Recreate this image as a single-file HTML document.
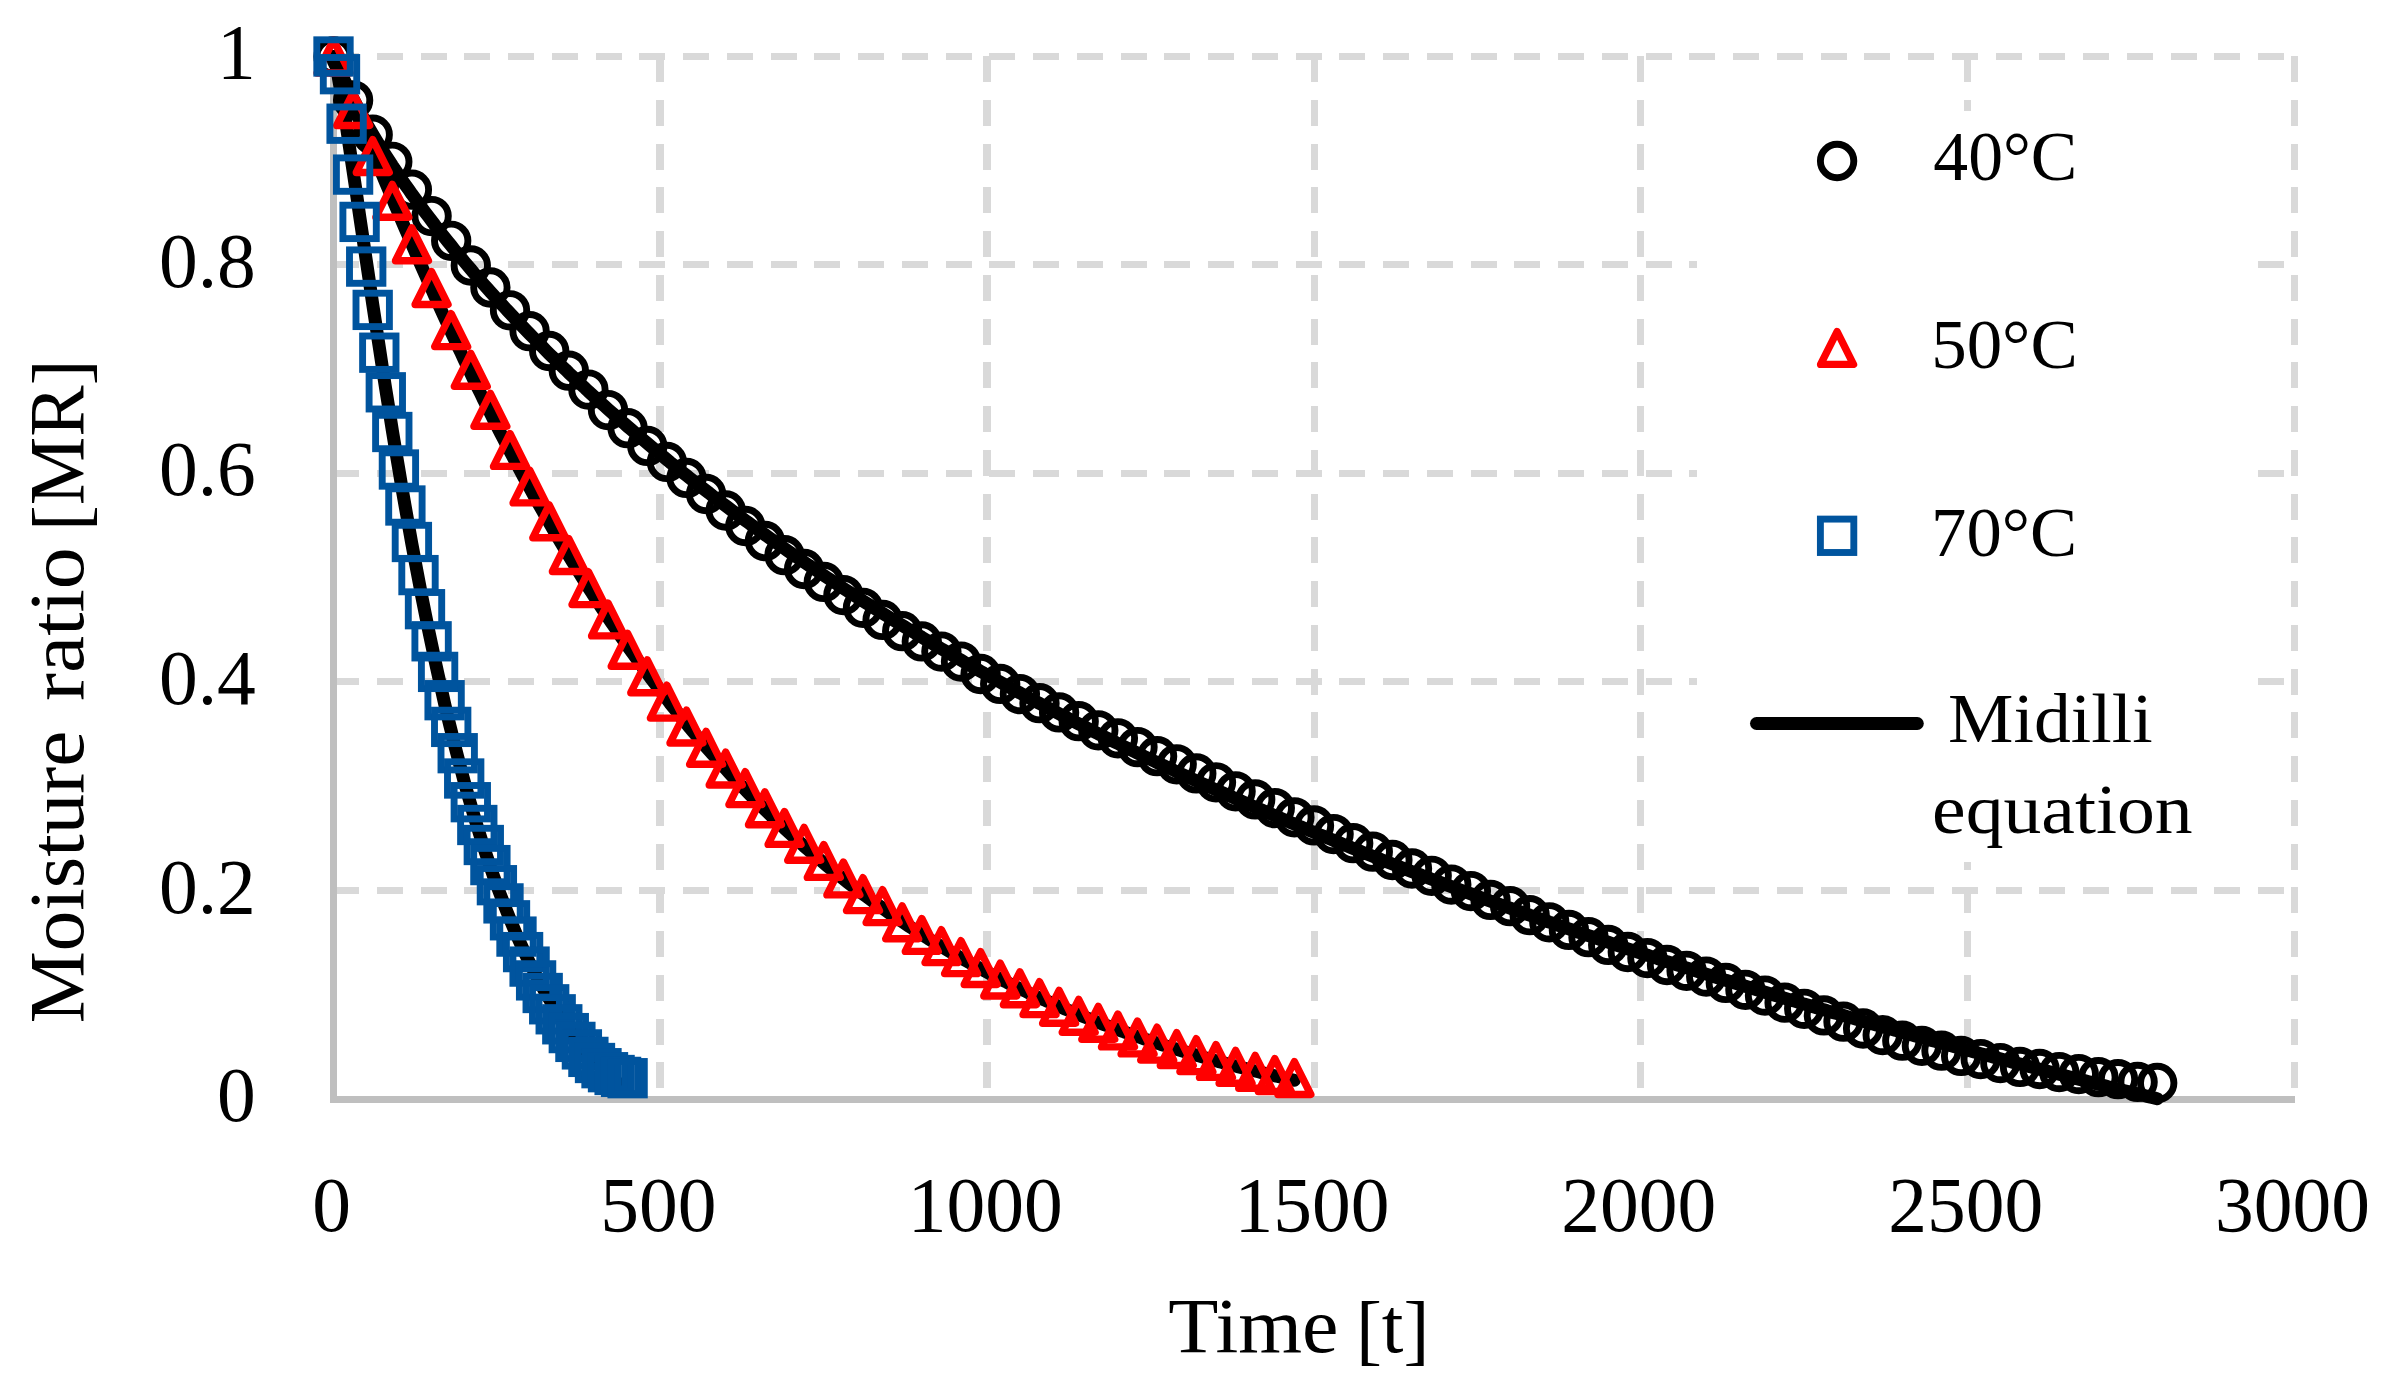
<!DOCTYPE html>
<html lang="en">
<head>
<meta charset="utf-8">
<title>Moisture ratio vs time</title>
<style>
html,body{margin:0;padding:0;background:#fff;}
body{width:2398px;height:1396px;overflow:hidden;}
svg{display:block;}
text{font-family:"Liberation Serif","DejaVu Serif",serif;fill:#000;}
</style>
</head>
<body>
<svg width="2398" height="1396" viewBox="0 0 2398 1396">
<rect x="0" y="0" width="2398" height="1396" fill="#ffffff"/>
<g id="grid" stroke="#d9d9d9" stroke-width="7" fill="none" stroke-dasharray="26 17.75" shape-rendering="crispEdges">
<line x1="333" y1="890.5" x2="2294.5" y2="890.5"/>
<line x1="333" y1="681.5" x2="2294.5" y2="681.5"/>
<line x1="333" y1="473.5" x2="2294.5" y2="473.5"/>
<line x1="333" y1="264.5" x2="2294.5" y2="264.5"/>
<line x1="333" y1="56.5" x2="2294.5" y2="56.5"/>
<line x1="660" y1="56" x2="660" y2="1099.5" stroke-width="8"/>
<line x1="987" y1="56" x2="987" y2="1099.5" stroke-width="8"/>
<line x1="1314" y1="56" x2="1314" y2="1099.5"/>
<line x1="1640.8" y1="56" x2="1640.8" y2="1099.5"/>
<line x1="1967.7" y1="56" x2="1967.7" y2="1099.5"/>
<line x1="2294.5" y1="56" x2="2294.5" y2="1099.5"/>
</g>
<g id="axes" stroke="#bfbfbf" stroke-width="7" fill="none" shape-rendering="crispEdges">
<line x1="333.5" y1="53" x2="333.5" y2="1103"/>
<line x1="330" y1="1099.5" x2="2294.5" y2="1099.5"/>
</g>
<g id="model" stroke="#000000" stroke-width="13" fill="none" stroke-linecap="round" stroke-linejoin="round">
<polyline points="333.5,56.5 336.8,61.3 340,70 343.3,77.9 346.6,85.2 349.8,92.1 353.1,98.7 356.4,105.1 359.6,111.3 362.9,117.2 366.2,123.1 369.5,128.8 372.7,134.3 376,139.8 379.3,145.1 382.5,150.4 385.8,155.5 389.1,160.6 392.3,165.6 395.6,170.5 398.9,175.4 402.1,180.2 405.4,184.9 408.7,189.6 411.9,194.2 415.2,198.7 418.5,203.2 421.7,207.7 425,212.1 428.3,216.4 431.6,220.7 434.8,225 438.1,229.2 441.4,233.4 444.6,237.5 447.9,241.6 451.2,245.7 454.4,249.7 457.7,253.7 461,257.6 464.2,261.5 467.5,265.4 470.8,269.3 474,273.1 477.3,276.9 480.6,280.7 483.8,284.4 487.1,288.1 490.4,291.8 493.6,295.4 496.9,299.1 500.2,302.7 503.5,306.2 506.7,309.8 510,313.3 513.3,316.8 516.5,320.3 519.8,323.7 523.1,327.1 526.3,330.5 529.6,333.9 532.9,337.3 536.1,340.6 539.4,343.9 542.7,347.2 545.9,350.5 549.2,353.8 552.5,357 555.7,360.2 559,363.4 562.3,366.6 565.6,369.7 568.8,372.9 572.1,376 575.4,379.1 578.6,382.2 581.9,385.3 585.2,388.3 588.4,391.4 591.7,394.4 595,397.4 598.2,400.4 601.5,403.3 604.8,406.3 608,409.2 611.3,412.1 614.6,415 617.8,417.9 621.1,420.8 624.4,423.7 627.6,426.5 630.9,429.3 634.2,432.2 637.5,435 640.7,437.8 644,440.5 647.3,443.3 650.5,446 653.8,448.8 657.1,451.5 660.3,454.2 663.6,456.9 666.9,459.6 670.1,462.3 673.4,464.9 676.7,467.6 679.9,470.2 683.2,472.8 686.5,475.4 689.7,478 693,480.6 696.3,483.2 699.6,485.7 702.8,488.3 706.1,490.8 709.4,493.3 712.6,495.9 715.9,498.4 719.2,500.8 722.4,503.3 725.7,505.8 729,508.3 732.2,510.7 735.5,513.1 738.8,515.6 742,518 745.3,520.4 748.6,522.8 751.8,525.2 755.1,527.6 758.4,529.9 761.7,532.3 764.9,534.6 768.2,537 771.5,539.3 774.7,541.6 778,543.9 781.3,546.2 784.5,548.5 787.8,550.8 791.1,553.1 794.3,555.3 797.6,557.6 800.9,559.8 804.1,562.1 807.4,564.3 810.7,566.5 813.9,568.7 817.2,570.9 820.5,573.1 823.8,575.3 827,577.5 830.3,579.7 833.6,581.8 836.8,584 840.1,586.1 843.4,588.3 846.6,590.4 849.9,592.5 853.2,594.6 856.4,596.7 859.7,598.8 863,600.9 866.2,603 869.5,605.1 872.8,607.1 876,609.2 879.3,611.2 882.6,613.3 885.8,615.3 889.1,617.3 892.4,619.4 895.7,621.4 898.9,623.4 902.2,625.4 905.5,627.4 908.7,629.4 912,631.3 915.3,633.3 918.5,635.3 921.8,637.2 925.1,639.2 928.3,641.1 931.6,643.1 934.9,645 938.1,646.9 941.4,648.8 944.7,650.7 947.9,652.6 951.2,654.5 954.5,656.4 957.8,658.3 961,660.2 964.3,662.1 967.6,663.9 970.8,665.8 974.1,667.6 977.4,669.5 980.6,671.3 983.9,673.2 987.2,675 990.4,676.8 993.7,678.6 997,680.4 1000.2,682.2 1003.5,684 1006.8,685.8 1010,687.6 1013.3,689.4 1016.6,691.2 1019.9,692.9 1023.1,694.7 1026.4,696.5 1029.7,698.2 1032.9,700 1036.2,701.7 1039.5,703.4 1042.7,705.2 1046,706.9 1049.3,708.6 1052.5,710.3 1055.8,712 1059.1,713.7 1062.3,715.4 1065.6,717.1 1068.9,718.8 1072.1,720.5 1075.4,722.2 1078.7,723.9 1081.9,725.5 1085.2,727.2 1088.5,728.8 1091.8,730.5 1095,732.1 1098.3,733.8 1101.6,735.4 1104.8,737.1 1108.1,738.7 1111.4,740.3 1114.6,741.9 1117.9,743.5 1121.2,745.1 1124.4,746.7 1127.7,748.3 1131,749.9 1134.2,751.5 1137.5,753.1 1140.8,754.7 1144,756.3 1147.3,757.8 1150.6,759.4 1153.9,761 1157.1,762.5 1160.4,764.1 1163.7,765.6 1166.9,767.2 1170.2,768.7 1173.5,770.2 1176.7,771.8 1180,773.3 1183.3,774.8 1186.5,776.3 1189.8,777.8 1193.1,779.4 1196.3,780.9 1199.6,782.4 1202.9,783.9 1206.1,785.3 1209.4,786.8 1212.7,788.3 1216,789.8 1219.2,791.3 1222.5,792.7 1225.8,794.2 1229,795.7 1232.3,797.1 1235.6,798.6 1238.8,800 1242.1,801.5 1245.4,802.9 1248.6,804.4 1251.9,805.8 1255.2,807.2 1258.4,808.7 1261.7,810.1 1265,811.5 1268.2,812.9 1271.5,814.3 1274.8,815.7 1278,817.1 1281.3,818.5 1284.6,819.9 1287.9,821.3 1291.1,822.7 1294.4,824.1 1297.7,825.5 1300.9,826.9 1304.2,828.2 1307.5,829.6 1310.7,831 1314,832.3 1317.3,833.7 1320.5,835.1 1323.8,836.4 1327.1,837.8 1330.3,839.1 1333.6,840.4 1336.9,841.8 1340.1,843.1 1343.4,844.5 1346.7,845.8 1350,847.1 1353.2,848.4 1356.5,849.8 1359.8,851.1 1363,852.4 1366.3,853.7 1369.6,855 1372.8,856.3 1376.1,857.6 1379.4,858.9 1382.6,860.2 1385.9,861.5 1389.2,862.8 1392.4,864 1395.7,865.3 1399,866.6 1402.2,867.9 1405.5,869.1 1408.8,870.4 1412,871.7 1415.3,872.9 1418.6,874.2 1421.9,875.4 1425.1,876.7 1428.4,877.9 1431.7,879.2 1434.9,880.4 1438.2,881.7 1441.5,882.9 1444.7,884.1 1448,885.4 1451.3,886.6 1454.5,887.8 1457.8,889 1461.1,890.3 1464.3,891.5 1467.6,892.7 1470.9,893.9 1474.1,895.1 1477.4,896.3 1480.7,897.5 1484,898.7 1487.2,899.9 1490.5,901.1 1493.8,902.3 1497,903.5 1500.3,904.7 1503.6,905.8 1506.8,907 1510.1,908.2 1513.4,909.4 1516.6,910.5 1519.9,911.7 1523.2,912.9 1526.4,914 1529.7,915.2 1533,916.3 1536.2,917.5 1539.5,918.7 1542.8,919.8 1546.1,920.9 1549.3,922.1 1552.6,923.2 1555.9,924.4 1559.1,925.5 1562.4,926.6 1565.7,927.8 1568.9,928.9 1572.2,930 1575.5,931.1 1578.7,932.3 1582,933.4 1585.3,934.5 1588.5,935.6 1591.8,936.7 1595.1,937.8 1598.3,938.9 1601.6,940 1604.9,941.1 1608.2,942.2 1611.4,943.3 1614.7,944.4 1618,945.5 1621.2,946.6 1624.5,947.7 1627.8,948.8 1631,949.9 1634.3,950.9 1637.6,952 1640.8,953.1 1644.1,954.2 1647.4,955.2 1650.6,956.3 1653.9,957.4 1657.2,958.4 1660.4,959.5 1663.7,960.6 1667,961.6 1670.2,962.7 1673.5,963.7 1676.8,964.8 1680.1,965.8 1683.3,966.9 1686.6,967.9 1689.9,968.9 1693.1,970 1696.4,971 1699.7,972.1 1702.9,973.1 1706.2,974.1 1709.5,975.1 1712.7,976.2 1716,977.2 1719.3,978.2 1722.5,979.2 1725.8,980.3 1729.1,981.3 1732.3,982.3 1735.6,983.3 1738.9,984.3 1742.2,985.3 1745.4,986.3 1748.7,987.3 1752,988.3 1755.2,989.3 1758.5,990.3 1761.8,991.3 1765,992.3 1768.3,993.3 1771.6,994.3 1774.8,995.3 1778.1,996.3 1781.4,997.2 1784.6,998.2 1787.9,999.2 1791.2,1000.2 1794.4,1001.1 1797.7,1002.1 1801,1003.1 1804.2,1004.1 1807.5,1005 1810.8,1006 1814.1,1007 1817.3,1007.9 1820.6,1008.9 1823.9,1009.8 1827.1,1010.8 1830.4,1011.7 1833.7,1012.7 1836.9,1013.6 1840.2,1014.6 1843.5,1015.5 1846.7,1016.5 1850,1017.4 1853.3,1018.4 1856.5,1019.3 1859.8,1020.2 1863.1,1021.2 1866.3,1022.1 1869.6,1023 1872.9,1024 1876.2,1024.9 1879.4,1025.8 1882.7,1026.8 1886,1027.7 1889.2,1028.6 1892.5,1029.5 1895.8,1030.4 1899,1031.4 1902.3,1032.3 1905.6,1033.2 1908.8,1034.1 1912.1,1035 1915.4,1035.9 1918.6,1036.8 1921.9,1037.7 1925.2,1038.6 1928.4,1039.5 1931.7,1040.4 1935,1041.3 1938.3,1042.2 1941.5,1043.1 1944.8,1044 1948.1,1044.9 1951.3,1045.8 1954.6,1046.7 1957.9,1047.6 1961.1,1048.4 1964.4,1049.3 1967.7,1050.2 1970.9,1051.1 1974.2,1052 1977.5,1052.8 1980.7,1053.7 1984,1054.6 1987.3,1055.5 1990.5,1056.3 1993.8,1057.2 1997.1,1058.1 2000.3,1058.9 2003.6,1059.8 2006.9,1060.7 2010.2,1061.5 2013.4,1062.4 2016.7,1063.2 2020,1064.1 2023.2,1064.9 2026.5,1065.8 2029.8,1066.6 2033,1067.5 2036.3,1068.3 2039.6,1069.2 2042.8,1070 2046.1,1070.9 2049.4,1071.7 2052.6,1072.6 2055.9,1073.4 2059.2,1074.2 2062.4,1075.1 2065.7,1075.9 2069,1076.8 2072.3,1077.6 2075.5,1078.4 2078.8,1079.2 2082.1,1080.1 2085.3,1080.9 2088.6,1081.7 2091.9,1082.6 2095.1,1083.4 2098.4,1084.2 2101.7,1085 2104.9,1085.8 2108.2,1086.7 2111.5,1087.5 2114.7,1088.3 2118,1089.1 2121.3,1089.9 2124.5,1090.7 2127.8,1091.5 2131.1,1092.3 2134.4,1093.1 2137.6,1093.9 2140.9,1094.7 2144.2,1095.6 2147.4,1096.4 2150.7,1097.2 2154,1097.9 2157.2,1098.7"/>
<polyline points="333.5,61.5 336.8,67.8 340,74.8 343.3,82.1 346.6,89.6 349.8,97.2 353.1,104.9 356.4,112.6 359.6,120.4 362.9,128.2 366.2,136 369.5,143.9 372.7,151.7 376,159.5 379.3,167.3 382.5,175.1 385.8,182.9 389.1,190.7 392.3,198.4 395.6,206.2 398.9,213.8 402.1,221.5 405.4,229.1 408.7,236.7 411.9,244.3 415.2,251.8 418.5,259.3 421.7,266.7 425,274.1 428.3,281.5 431.6,288.8 434.8,296.1 438.1,303.4 441.4,310.6 444.6,317.7 447.9,324.8 451.2,331.9 454.4,338.9 457.7,345.9 461,352.8 464.2,359.7 467.5,366.6 470.8,373.4 474,380.1 477.3,386.8 480.6,393.5 483.8,400.1 487.1,406.6 490.4,413.2 493.6,419.6 496.9,426 500.2,432.4 503.5,438.8 506.7,445 510,451.3 513.3,457.5 516.5,463.6 519.8,469.7 523.1,475.8 526.3,481.8 529.6,487.7 532.9,493.7 536.1,499.5 539.4,505.3 542.7,511.1 545.9,516.9 549.2,522.5 552.5,528.2 555.7,533.8 559,539.3 562.3,544.8 565.6,550.3 568.8,555.7 572.1,561.1 575.4,566.4 578.6,571.7 581.9,577 585.2,582.2 588.4,587.4 591.7,592.5 595,597.6 598.2,602.6 601.5,607.6 604.8,612.5 608,617.4 611.3,622.3 614.6,627.1 617.8,631.9 621.1,636.7 624.4,641.4 627.6,646.1 630.9,650.7 634.2,655.3 637.5,659.8 640.7,664.3 644,668.8 647.3,673.3 650.5,677.7 653.8,682 657.1,686.3 660.3,690.6 663.6,694.9 666.9,699.1 670.1,703.3 673.4,707.4 676.7,711.5 679.9,715.6 683.2,719.6 686.5,723.6 689.7,727.6 693,731.5 696.3,735.4 699.6,739.2 702.8,743.1 706.1,746.9 709.4,750.6 712.6,754.3 715.9,758 719.2,761.7 722.4,765.3 725.7,768.9 729,772.5 732.2,776 735.5,779.5 738.8,783 742,786.4 745.3,789.8 748.6,793.2 751.8,796.5 755.1,799.9 758.4,803.1 761.7,806.4 764.9,809.6 768.2,812.8 771.5,816 774.7,819.1 778,822.2 781.3,825.3 784.5,828.4 787.8,831.4 791.1,834.4 794.3,837.4 797.6,840.3 800.9,843.3 804.1,846.2 807.4,849 810.7,851.9 813.9,854.7 817.2,857.5 820.5,860.2 823.8,863 827,865.7 830.3,868.4 833.6,871 836.8,873.7 840.1,876.3 843.4,878.9 846.6,881.5 849.9,884 853.2,886.5 856.4,889 859.7,891.5 863,894 866.2,896.4 869.5,898.8 872.8,901.2 876,903.6 879.3,905.9 882.6,908.2 885.8,910.5 889.1,912.8 892.4,915.1 895.7,917.3 898.9,919.5 902.2,921.7 905.5,923.9 908.7,926 912,928.2 915.3,930.3 918.5,932.4 921.8,934.5 925.1,936.5 928.3,938.6 931.6,940.6 934.9,942.6 938.1,944.6 941.4,946.5 944.7,948.5 947.9,950.4 951.2,952.3 954.5,954.2 957.8,956.1 961,958 964.3,959.8 967.6,961.6 970.8,963.4 974.1,965.2 977.4,967 980.6,968.8 983.9,970.5 987.2,972.2 990.4,973.9 993.7,975.6 997,977.3 1000.2,979 1003.5,980.6 1006.8,982.2 1010,983.9 1013.3,985.5 1016.6,987.1 1019.9,988.6 1023.1,990.2 1026.4,991.7 1029.7,993.3 1032.9,994.8 1036.2,996.3 1039.5,997.8 1042.7,999.2 1046,1000.7 1049.3,1002.1 1052.5,1003.6 1055.8,1005 1059.1,1006.4 1062.3,1007.8 1065.6,1009.2 1068.9,1010.5 1072.1,1011.9 1075.4,1013.2 1078.7,1014.6 1081.9,1015.9 1085.2,1017.2 1088.5,1018.5 1091.8,1019.8 1095,1021.1 1098.3,1022.3 1101.6,1023.6 1104.8,1024.8 1108.1,1026 1111.4,1027.2 1114.6,1028.4 1117.9,1029.6 1121.2,1030.8 1124.4,1032 1127.7,1033.1 1131,1034.3 1134.2,1035.4 1137.5,1036.6 1140.8,1037.7 1144,1038.8 1147.3,1039.9 1150.6,1041 1153.9,1042 1157.1,1043.1 1160.4,1044.2 1163.7,1045.2 1166.9,1046.3 1170.2,1047.3 1173.5,1048.3 1176.7,1049.3 1180,1050.3 1183.3,1051.3 1186.5,1052.3 1189.8,1053.3 1193.1,1054.2 1196.3,1055.2 1199.6,1056.1 1202.9,1057.1 1206.1,1058 1209.4,1058.9 1212.7,1059.9 1216,1060.8 1219.2,1061.7 1222.5,1062.6 1225.8,1063.4 1229,1064.3 1232.3,1065.2 1235.6,1066 1238.8,1066.9 1242.1,1067.7 1245.4,1068.6 1248.6,1069.4 1251.9,1070.2 1255.2,1071 1258.4,1071.8 1261.7,1072.6 1265,1073.4 1268.2,1074.2 1271.5,1075 1274.8,1075.8 1278,1076.5 1281.3,1077.3 1284.6,1078.1 1287.9,1078.8 1291.1,1079.5 1294.4,1080.3"/>
<polyline points="333.5,56.5 336.8,68.7 340,87 343.3,106.9 346.6,127.8 349.8,149.3 353.1,171.2 356.4,193.3 359.6,215.6 362.9,237.8 366.2,260 369.5,282.1 372.7,304.1 376,325.8 379.3,347.2 382.5,368.4 385.8,389.4 389.1,409.9 392.3,430.2 395.6,450.1 398.9,469.7 402.1,488.9 405.4,507.7 408.7,526.1 411.9,544.2 415.2,561.8 418.5,579.1 421.7,596 425,612.5 428.3,628.7 431.6,644.4 434.8,659.7 438.1,674.7 441.4,689.3 444.6,703.6 447.9,717.4 451.2,730.9 454.4,744.1 457.7,756.9 461,769.4 464.2,781.5 467.5,793.3 470.8,804.7 474,815.9 477.3,826.7 480.6,837.2 483.8,847.5 487.1,857.4 490.4,867.1 493.6,876.4 496.9,885.5 500.2,894.3 503.5,902.9 506.7,911.2 510,919.3 513.3,927.1 516.5,934.7 519.8,942 523.1,949.2 526.3,956.1 529.6,962.8 532.9,969.3 536.1,975.6 539.4,981.7 542.7,987.6 545.9,993.4 549.2,998.9 552.5,1004.3 555.7,1009.5 559,1014.6 562.3,1019.5 565.6,1024.3 568.8,1028.9 572.1,1033.3 575.4,1037.6 578.6,1041.8 581.9,1045.9 585.2,1049.8 588.4,1053.6 591.7,1057.3 595,1060.8 598.2,1064.3 601.5,1067.7 604.8,1070.9 608,1074.1 611.3,1077.1 614.6,1080.1 617.8,1082.9 621.1,1085.7 624.4,1088.4 627.6,1091"/>
</g>
<g id="s40" stroke="#000000" stroke-width="6.9" fill="none" stroke-linejoin="round">
<circle cx="333.5" cy="56.5" r="16.7"/><circle cx="353.1" cy="100.3" r="16.7"/><circle cx="372.7" cy="134.7" r="16.7"/><circle cx="392.3" cy="161.8" r="16.7"/><circle cx="411.9" cy="189.7" r="16.7"/><circle cx="431.6" cy="216.1" r="16.7"/><circle cx="451.2" cy="240.8" r="16.7"/><circle cx="470.8" cy="265.5" r="16.7"/><circle cx="490.4" cy="287.5" r="16.7"/><circle cx="510" cy="310.3" r="16.7"/><circle cx="529.6" cy="331.2" r="16.7"/><circle cx="549.2" cy="351" r="16.7"/><circle cx="568.8" cy="370.7" r="16.7"/><circle cx="588.4" cy="389.6" r="16.7"/><circle cx="608" cy="410.1" r="16.7"/><circle cx="627.6" cy="428.2" r="16.7"/><circle cx="647.3" cy="445.9" r="16.7"/><circle cx="666.9" cy="461.9" r="16.7"/><circle cx="686.5" cy="477.9" r="16.7"/><circle cx="706.1" cy="494" r="16.7"/><circle cx="725.7" cy="510.5" r="16.7"/><circle cx="745.3" cy="526" r="16.7"/><circle cx="764.9" cy="541" r="16.7"/><circle cx="784.5" cy="555.2" r="16.7"/><circle cx="804.1" cy="569" r="16.7"/><circle cx="823.8" cy="581.9" r="16.7"/><circle cx="843.4" cy="595.1" r="16.7"/><circle cx="863" cy="607.8" r="16.7"/><circle cx="882.6" cy="619.9" r="16.7"/><circle cx="902.2" cy="631.2" r="16.7"/><circle cx="921.8" cy="641.4" r="16.7"/><circle cx="941.4" cy="651.6" r="16.7"/><circle cx="961" cy="661.6" r="16.7"/><circle cx="980.6" cy="674" r="16.7"/><circle cx="1000.2" cy="683.9" r="16.7"/><circle cx="1019.9" cy="694.1" r="16.7"/><circle cx="1039.5" cy="703.2" r="16.7"/><circle cx="1059.1" cy="712.4" r="16.7"/><circle cx="1078.7" cy="721.2" r="16.7"/><circle cx="1098.3" cy="730.3" r="16.7"/><circle cx="1117.9" cy="738.3" r="16.7"/><circle cx="1137.5" cy="747.1" r="16.7"/><circle cx="1157.1" cy="756.2" r="16.7"/><circle cx="1176.7" cy="764.3" r="16.7"/><circle cx="1196.3" cy="773.4" r="16.7"/><circle cx="1216" cy="782.3" r="16.7"/><circle cx="1235.6" cy="791.3" r="16.7"/><circle cx="1255.2" cy="799.4" r="16.7"/><circle cx="1274.8" cy="808.1" r="16.7"/><circle cx="1294.4" cy="817.3" r="16.7"/><circle cx="1314" cy="825.4" r="16.7"/><circle cx="1333.6" cy="834.1" r="16.7"/><circle cx="1353.2" cy="843.2" r="16.7"/><circle cx="1372.8" cy="851.7" r="16.7"/><circle cx="1392.4" cy="860" r="16.7"/><circle cx="1412" cy="868.5" r="16.7"/><circle cx="1431.7" cy="875.8" r="16.7"/><circle cx="1451.3" cy="884.6" r="16.7"/><circle cx="1470.9" cy="891.1" r="16.7"/><circle cx="1490.5" cy="899.9" r="16.7"/><circle cx="1510.1" cy="906.2" r="16.7"/><circle cx="1529.7" cy="915.2" r="16.7"/><circle cx="1549.3" cy="922.3" r="16.7"/><circle cx="1568.9" cy="929.9" r="16.7"/><circle cx="1588.5" cy="937.2" r="16.7"/><circle cx="1608.2" cy="944.9" r="16.7"/><circle cx="1627.8" cy="952" r="16.7"/><circle cx="1647.4" cy="958.1" r="16.7"/><circle cx="1667" cy="965" r="16.7"/><circle cx="1686.6" cy="970.8" r="16.7"/><circle cx="1706.2" cy="976.6" r="16.7"/><circle cx="1725.8" cy="982.9" r="16.7"/><circle cx="1745.4" cy="989.8" r="16.7"/><circle cx="1765" cy="995.6" r="16.7"/><circle cx="1784.6" cy="1002.7" r="16.7"/><circle cx="1804.2" cy="1008.8" r="16.7"/><circle cx="1823.9" cy="1015.4" r="16.7"/><circle cx="1843.5" cy="1021.7" r="16.7"/><circle cx="1863.1" cy="1028.5" r="16.7"/><circle cx="1882.7" cy="1035.1" r="16.7"/><circle cx="1902.3" cy="1040.7" r="16.7"/><circle cx="1921.9" cy="1045.8" r="16.7"/><circle cx="1941.5" cy="1050.7" r="16.7"/><circle cx="1961.1" cy="1055.9" r="16.7"/><circle cx="1980.7" cy="1059.1" r="16.7"/><circle cx="2000.3" cy="1063.1" r="16.7"/><circle cx="2020" cy="1066.9" r="16.7"/><circle cx="2039.6" cy="1069" r="16.7"/><circle cx="2059.2" cy="1072.1" r="16.7"/><circle cx="2078.8" cy="1074.1" r="16.7"/><circle cx="2098.4" cy="1077.2" r="16.7"/><circle cx="2118" cy="1079.2" r="16.7"/><circle cx="2137.6" cy="1081.9" r="16.7"/><circle cx="2157.2" cy="1083" r="16.7"/>
</g>
<g id="s50" stroke="#ff0000" stroke-width="7.4" fill="none" stroke-linejoin="round">
<path d="M333.5 40L349.9 73L317.1 73Z"/><path d="M353.1 92.6L369.6 125.5L336.7 125.5Z"/><path d="M372.7 139.6L389.2 172.5L356.3 172.5Z"/><path d="M392.3 184.3L408.8 217.2L375.9 217.2Z"/><path d="M411.9 227.8L428.4 260.7L395.5 260.7Z"/><path d="M431.6 271.6L448 304.5L415.1 304.5Z"/><path d="M451.2 313.7L467.6 346.6L434.7 346.6Z"/><path d="M470.8 353.4L487.2 386.3L454.3 386.3Z"/><path d="M490.4 393.4L506.8 426.3L473.9 426.3Z"/><path d="M510 433.5L526.4 466.4L493.5 466.4Z"/><path d="M529.6 470L546.1 502.9L513.1 502.9Z"/><path d="M549.2 504.9L565.7 537.8L532.8 537.8Z"/><path d="M568.8 538.6L585.3 571.5L552.4 571.5Z"/><path d="M588.4 571.7L604.9 604.6L572 604.6Z"/><path d="M608 603L624.5 635.9L591.6 635.9Z"/><path d="M627.6 633.4L644.1 666.3L611.2 666.3Z"/><path d="M647.3 659.8L663.7 692.7L630.8 692.7Z"/><path d="M666.9 685.2L683.3 718.1L650.4 718.1Z"/><path d="M686.5 710.1L702.9 743L670 743Z"/><path d="M706.1 731.4L722.5 764.3L689.6 764.3Z"/><path d="M725.7 752.1L742.2 785L709.2 785Z"/><path d="M745.3 771.7L761.8 804.6L728.9 804.6Z"/><path d="M764.9 791.8L781.4 824.7L748.5 824.7Z"/><path d="M784.5 811.5L801 844.4L768.1 844.4Z"/><path d="M804.1 827.4L820.6 860.3L787.7 860.3Z"/><path d="M823.8 844.5L840.2 877.4L807.3 877.4Z"/><path d="M843.4 862L859.8 894.9L826.9 894.9Z"/><path d="M863 877.7L879.4 910.6L846.5 910.6Z"/><path d="M882.6 889.7L899 922.6L866.1 922.6Z"/><path d="M902.2 905.9L918.6 938.8L885.7 938.8Z"/><path d="M921.8 918.5L938.2 951.4L905.3 951.4Z"/><path d="M941.4 929.7L957.9 962.6L925 962.6Z"/><path d="M961 940.7L977.5 973.6L944.6 973.6Z"/><path d="M980.6 951.6L997.1 984.5L964.2 984.5Z"/><path d="M1000.2 963.1L1016.7 996L983.8 996Z"/><path d="M1019.9 971.8L1036.3 1004.7L1003.4 1004.7Z"/><path d="M1039.5 981.7L1055.9 1014.6L1023 1014.6Z"/><path d="M1059.1 990.4L1075.5 1023.3L1042.6 1023.3Z"/><path d="M1078.7 999.4L1095.1 1032.3L1062.2 1032.3Z"/><path d="M1098.3 1006.4L1114.7 1039.3L1081.8 1039.3Z"/><path d="M1117.9 1014L1134.4 1046.9L1101.5 1046.9Z"/><path d="M1137.5 1021L1154 1053.9L1121.1 1053.9Z"/><path d="M1157.1 1027.2L1173.6 1060.1L1140.7 1060.1Z"/><path d="M1176.7 1032.6L1193.2 1065.5L1160.3 1065.5Z"/><path d="M1196.3 1038.7L1212.8 1071.6L1179.9 1071.6Z"/><path d="M1216 1044.5L1232.4 1077.4L1199.5 1077.4Z"/><path d="M1235.6 1050.3L1252 1083.2L1219.1 1083.2Z"/><path d="M1255.2 1055.3L1271.6 1088.2L1238.7 1088.2Z"/><path d="M1274.8 1058.6L1291.2 1091.5L1258.3 1091.5Z"/><path d="M1294.4 1061.6L1310.8 1094.5L1277.9 1094.5Z"/>
</g>
<g id="s70" stroke="#00549e" stroke-width="6.9" fill="none" stroke-linejoin="miter">
<rect x="316.8" y="39.8" width="33.4" height="33.4"/><rect x="323.3" y="57.5" width="33.4" height="33.4"/><rect x="329.9" y="107" width="33.4" height="33.4"/><rect x="336.4" y="157.9" width="33.4" height="33.4"/><rect x="342.9" y="205.2" width="33.4" height="33.4"/><rect x="349.5" y="249.9" width="33.4" height="33.4"/><rect x="356" y="293.2" width="33.4" height="33.4"/><rect x="362.6" y="336" width="33.4" height="33.4"/><rect x="369.1" y="375.6" width="33.4" height="33.4"/><rect x="375.6" y="415.3" width="33.4" height="33.4"/><rect x="382.2" y="452.8" width="33.4" height="33.4"/><rect x="388.7" y="488.8" width="33.4" height="33.4"/><rect x="395.2" y="525.3" width="33.4" height="33.4"/><rect x="401.8" y="558.4" width="33.4" height="33.4"/><rect x="408.3" y="592.5" width="33.4" height="33.4"/><rect x="414.9" y="624.6" width="33.4" height="33.4"/><rect x="421.4" y="655.2" width="33.4" height="33.4"/><rect x="427.9" y="683.5" width="33.4" height="33.4"/><rect x="434.5" y="710.2" width="33.4" height="33.4"/><rect x="441" y="736.5" width="33.4" height="33.4"/><rect x="447.5" y="761.8" width="33.4" height="33.4"/><rect x="454.1" y="785.5" width="33.4" height="33.4"/><rect x="460.6" y="808.3" width="33.4" height="33.4"/><rect x="467.1" y="828.3" width="33.4" height="33.4"/><rect x="473.7" y="848.4" width="33.4" height="33.4"/><rect x="480.2" y="868.5" width="33.4" height="33.4"/><rect x="486.8" y="886.7" width="33.4" height="33.4"/><rect x="493.3" y="903.6" width="33.4" height="33.4"/><rect x="499.8" y="919.9" width="33.4" height="33.4"/><rect x="506.4" y="935.4" width="33.4" height="33.4"/><rect x="512.9" y="949.9" width="33.4" height="33.4"/><rect x="519.4" y="963.7" width="33.4" height="33.4"/><rect x="526" y="976.3" width="33.4" height="33.4"/><rect x="532.5" y="987.6" width="33.4" height="33.4"/><rect x="539" y="997.6" width="33.4" height="33.4"/><rect x="545.6" y="1007.6" width="33.4" height="33.4"/><rect x="552.1" y="1016.4" width="33.4" height="33.4"/><rect x="558.7" y="1025.2" width="33.4" height="33.4"/><rect x="565.2" y="1032.7" width="33.4" height="33.4"/><rect x="571.7" y="1040.2" width="33.4" height="33.4"/><rect x="578.3" y="1046.3" width="33.4" height="33.4"/><rect x="584.8" y="1051.5" width="33.4" height="33.4"/><rect x="591.3" y="1055.5" width="33.4" height="33.4"/><rect x="597.9" y="1058.3" width="33.4" height="33.4"/><rect x="604.4" y="1060.2" width="33.4" height="33.4"/><rect x="610.9" y="1061.5" width="33.4" height="33.4"/>
</g>
<rect id="legend" x="1697" y="111" width="553" height="751" fill="#ffffff"/>
<circle cx="1837.1" cy="161" r="16.7" stroke="#000" stroke-width="6.9" fill="none"/>
<path d="M1837.1 331.6L1853.5 364.4L1820.6 364.4Z" stroke="#ff0000" stroke-width="7.4" fill="none" stroke-linejoin="round"/>
<rect x="1820.4" y="519.1" width="33.4" height="33.4" stroke="#00549e" stroke-width="6.9" fill="none" stroke-linejoin="miter"/>
<line x1="1756.5" y1="723.5" x2="1917.3" y2="723.5" stroke="#000" stroke-width="13" stroke-linecap="round"/>
<text x="1933.3" y="180.3" font-size="69" text-anchor="start" textLength="144" lengthAdjust="spacingAndGlyphs">40°C</text>
<text x="1931.2" y="368.1" font-size="69" text-anchor="start" textLength="146.6" lengthAdjust="spacingAndGlyphs">50°C</text>
<text x="1931.1" y="555.6" font-size="69" text-anchor="start" textLength="145.9" lengthAdjust="spacingAndGlyphs">70°C</text>
<text font-size="69"><tspan x="1948.1" y="741.8" textLength="204.5" lengthAdjust="spacingAndGlyphs">Midilli</tspan> <tspan x="1932.1" y="832.7" textLength="260.5" lengthAdjust="spacingAndGlyphs">equation</tspan></text>
<text x="255.8" y="1121.2" font-size="77.5" text-anchor="end">0</text>
<text x="255.8" y="912.6" font-size="77.5" text-anchor="end">0.2</text>
<text x="255.8" y="704" font-size="77.5" text-anchor="end">0.4</text>
<text x="255.8" y="495.4" font-size="77.5" text-anchor="end">0.6</text>
<text x="255.8" y="286.8" font-size="77.5" text-anchor="end">0.8</text>
<text x="255.8" y="78.2" font-size="77.5" text-anchor="end">1</text>
<text x="331.5" y="1230.7" font-size="77.5" text-anchor="middle">0</text>
<text x="658.3" y="1230.7" font-size="77.5" text-anchor="middle">500</text>
<text x="985.2" y="1230.7" font-size="77.5" text-anchor="middle">1000</text>
<text x="1312" y="1230.7" font-size="77.5" text-anchor="middle">1500</text>
<text x="1638.8" y="1230.7" font-size="77.5" text-anchor="middle">2000</text>
<text x="1965.7" y="1230.7" font-size="77.5" text-anchor="middle">2500</text>
<text x="2292.5" y="1230.7" font-size="77.5" text-anchor="middle">3000</text>
<text y="1351.8" font-size="77.5"><tspan x="1168.2" textLength="170.3" lengthAdjust="spacingAndGlyphs">Time</tspan> <tspan x="1355.9" textLength="73.6" lengthAdjust="spacingAndGlyphs"><tspan dy="4">[</tspan><tspan dy="-4">t</tspan><tspan dy="4">]</tspan></tspan></text>
<text transform="translate(82.5 0) rotate(-90)" y="0" font-size="77.5"><tspan x="-1023.3" textLength="292.5" lengthAdjust="spacingAndGlyphs">Moisture</tspan> <tspan x="-700.9" textLength="153.4" lengthAdjust="spacingAndGlyphs">ratio</tspan> <tspan x="-530.9" textLength="171.2" lengthAdjust="spacingAndGlyphs"><tspan dy="4">[</tspan><tspan dy="-4">MR</tspan><tspan dy="4">]</tspan></tspan></text>
</svg>
</body>
</html>
